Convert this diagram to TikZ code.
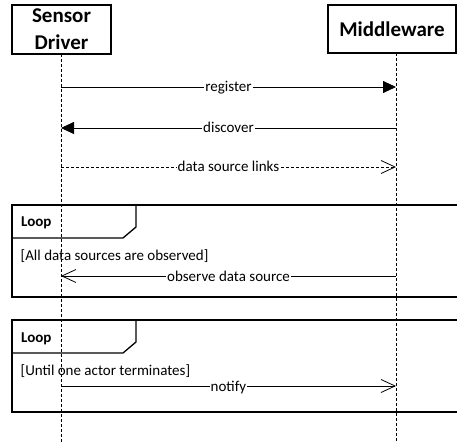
\documentclass[tikz,border=0pt]{standalone}
\usepackage{fontspec}
\setmainfont{Carlito}
\usetikzlibrary{arrows.meta}
\tikzset{lifeline/.style={dash pattern=on 3pt off 2pt, line width=0.8pt}}
\tikzset{sync/.style={line width=0.8pt, -{Triangle[length=13pt,width=12pt]}}}
\tikzset{reply/.style={line width=0.8pt, dash pattern=on 3pt off 2pt, -{Straight Barb[length=14pt,width=13pt]}}}
\tikzset{async/.style={line width=0.8pt, -{Straight Barb[length=14pt,width=13pt]}}}
\tikzset{msglabel/.style={fill=white, inner sep=1pt, anchor=base, yshift=-5pt, font=\fontsize{15}{17}\selectfont}}
\tikzset{actor/.style={draw, line width=1.2pt, align=center, font=\fontsize{21}{27}\selectfont\bfseries}}
\tikzset{frame/.style={line width=1.3pt}}
\tikzset{framelabel/.style={anchor=base west, inner sep=0pt, font=\fontsize{15}{17}\selectfont\bfseries}}
\tikzset{guard/.style={anchor=base west, inner sep=0pt, font=\fontsize{15}{17}\selectfont}}

\begin{document}
\begin{tikzpicture}[x=1pt,y=-1pt]
      \useasboundingbox (0,0) rectangle (457,443);
      \node [actor, minimum width=99pt, minimum height=49pt] (sd) at (61.5,29.5) {Sensor\\Driver};
      \node [actor, minimum width=128pt, minimum height=48pt] (mw) at (392,29) {Middleware};
      \coordinate (sd-top) at (61,54);
      \coordinate (sd-end) at (61,443);
      \coordinate (mw-top) at (396,53);
      \coordinate (mw-end) at (396,443);
      \coordinate (sd-reg) at (61,87);
      \coordinate (mw-reg) at (396,87);
      \coordinate (sd-disc) at (61,128);
      \coordinate (mw-disc) at (396,128);
      \coordinate (sd-links) at (61,167);
      \coordinate (mw-links) at (396,167);
      \coordinate (sd-obs) at (61,276);
      \coordinate (mw-obs) at (396,276);
      \coordinate (sd-notif) at (61,386);
      \coordinate (mw-notif) at (396,386);
      \draw [frame] (460,205) -- (12,205) -- (12,297) -- (460,297);
      \draw [frame] (12,238) -- (123,238) -- (136,227) -- (136,205);
      \node [framelabel] (loop1) at (21,227) {Loop};
      \node [guard] (guard1) at (20.5,260.5) {[All data sources are observed]};
      \draw [frame] (460,320) -- (12,320) -- (12,412) -- (460,412);
      \draw [frame] (12,353) -- (123,353) -- (136,342) -- (136,320);
      \node [framelabel] (loop2) at (21,342) {Loop};
      \node [guard] (guard2) at (20.5,375.5) {[Until one actor terminates]};
      \draw [sync] (sd-reg) -- node [msglabel] {register} (mw-reg);
      \draw [sync] (mw-disc) -- node [msglabel] {discover} (sd-disc);
      \draw [reply] (sd-links) -- node [msglabel] {data source links} (mw-links);
      \draw [async] (mw-obs) -- node [msglabel] {observe data source} (sd-obs);
      \draw [async] (sd-notif) -- node [msglabel] {notify} (mw-notif);
      \draw [lifeline] (sd-top) -- (sd-end);
      \draw [lifeline] (mw-top) -- (mw-end);
    \end{tikzpicture}
\end{document}
